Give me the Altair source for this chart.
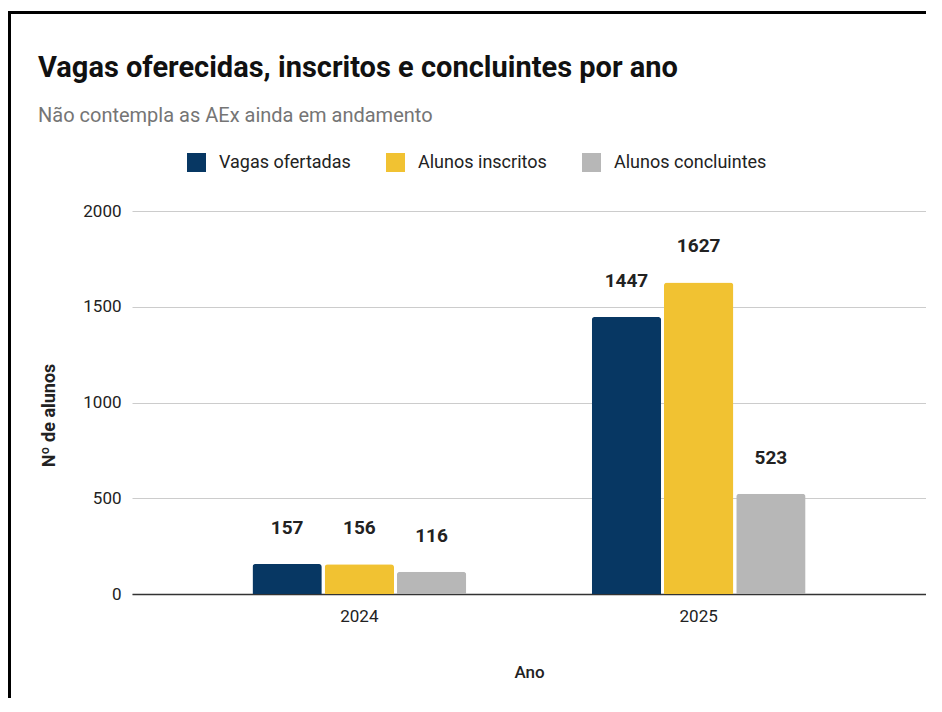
import altair as alt
import pandas as pd

anos = ["2024", "2025"]
series = ["Vagas ofertadas", "Alunos inscritos", "Alunos concluintes"]
vagas = [157, 1447]
inscritos = [156, 1627]
concluintes = [116, 523]
colors = ["#073763", "#f1c232", "#b7b7b7"]
y_ticks = [0, 500, 1000, 1500, 2000]

rows = []
for i, ano in enumerate(anos):
    for s, vals in zip(series, [vagas, inscritos, concluintes]):
        rows.append({"Ano": ano, "Serie": s, "Valor": vals[i]})
df = pd.DataFrame(rows)

FONT = "Roboto, sans-serif"

base = alt.Chart(df).encode(
    x=alt.X("Ano:N", sort=anos,
            scale=alt.Scale(paddingInner=0.37, paddingOuter=0.355),
            axis=alt.Axis(title="Ano", labelAngle=0, tickSize=0, labelPadding=14,
                          titlePadding=40, domainColor="#333333", domainWidth=1.5,
                          labelFontSize=17, titleFontSize=17, titleFontWeight=500,
                          labelColor="#222222", titleColor="#222222",
                          labelFont=FONT, titleFont=FONT)),
    xOffset=alt.XOffset("Serie:N", sort=series, scale=alt.Scale(paddingInner=0.04)),
    y=alt.Y("Valor:Q",
            scale=alt.Scale(domain=[0, 2000]),
            axis=alt.Axis(title="Nº de alunos", values=y_ticks, format="d",
                          tickSize=0, labelPadding=11,
                          domain=False, gridColor="#cccccc", gridWidth=1,
                          labelFontSize=17, titleFontSize=18, titleFontWeight="bold",
                          titlePadding=24, titleY=204,
                          labelColor="#222222", titleColor="#222222",
                          labelFont=FONT, titleFont=FONT)),
)

bars = base.mark_bar(cornerRadiusTopLeft=3, cornerRadiusTopRight=3).encode(
    color=alt.Color("Serie:N", sort=series,
                    scale=alt.Scale(domain=series, range=colors),
                    legend=alt.Legend(title=None, orient="none", legendX=55, legendY=-58,
                                      direction="horizontal", columns=3,
                                      symbolType="square", symbolSize=361,
                                      symbolStrokeWidth=0, labelOffset=13,
                                      columnPadding=35, labelFontSize=18,
                                      labelFont=FONT, labelColor="#222222"))
)

labels = base.mark_text(baseline="bottom", dy=-26, fontSize=19, fontWeight="bold",
                        font=FONT, color="#222222").encode(
    text=alt.Text("Valor:Q")
)

border = alt.Chart(alt.Data(values=[{"k": 1}])).mark_rect(
    fill=None, stroke="#000000", strokeWidth=3
).encode(
    x=alt.value(-122.5), x2=alt.value(830),
    y=alt.value(-198.5), y2=alt.value(530)
)

chart = alt.layer(border, bars, labels).properties(
    width=794, height=383,
    autosize=alt.AutoSizeParams(type="none"),
    padding={"left": 124, "top": 203, "right": 0, "bottom": 104},
    title=alt.TitleParams(
        text="Vagas oferecidas, inscritos e concluintes por ano",
        subtitle="Não contempla as AEx ainda em andamento",
        anchor="start", frame="group", dx=-94, offset=-115,
        fontSize=29, fontWeight="bold", font=FONT, color="#111111",
        subtitleFontSize=20, subtitleFont=FONT, subtitleColor="#757575",
        subtitlePadding=23,
    ),
).configure_view(stroke=None)

chart.save("out.html", embed_options={"renderer": "svg", "actions": False})
